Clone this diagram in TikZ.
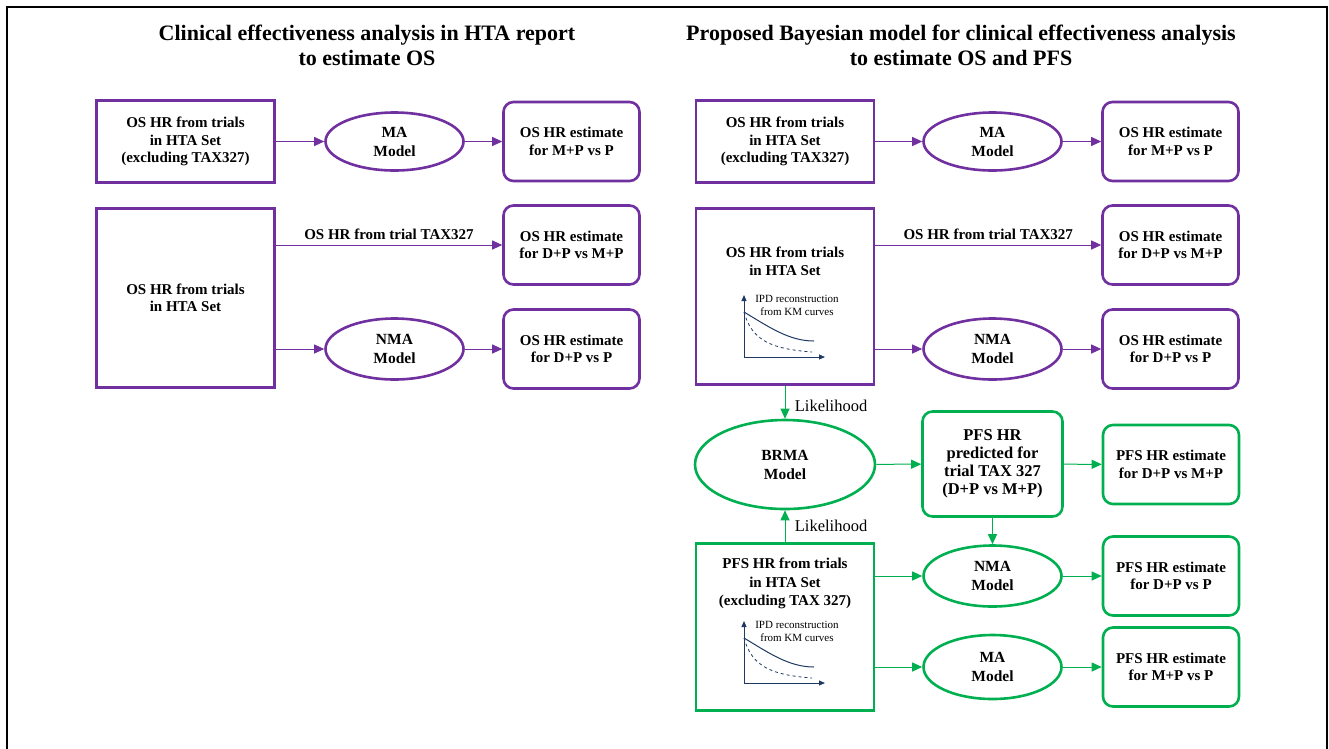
\documentclass[tikz,border=0pt]{standalone}
\usepackage{fontspec}
\setmainfont{Liberation Serif}
\usetikzlibrary{arrows.meta,positioning,shapes.geometric}
\definecolor{ospurple}{RGB}{112,48,160}
\definecolor{pfsgreen}{RGB}{0,176,80}
\definecolor{kmblue}{RGB}{31,56,100}

\begin{document}
\begin{tikzpicture}[x=1pt, y=-1pt,
    sqbox/.style={draw=#1, line width=2.6pt, minimum width=178pt, align=center, font=\fontsize{15}{17.5}\selectfont\bfseries},
    estbox/.style={draw=#1, line width=2.6pt, rounded corners=10pt, minimum width=136pt, minimum height=79pt, align=center, font=\fontsize{15}{17.5}\selectfont\bfseries},
    model/.style={draw=#1, ellipse, line width=2.6pt, minimum width=138pt, minimum height=58pt, inner sep=1pt, align=center, font=\fontsize{15.5}{19}\selectfont\bfseries},
    lbl/.style={align=center, font=\fontsize{15}{17.5}\selectfont\bfseries},
    title/.style={align=center, font=\fontsize{22}{25}\selectfont\bfseries},
    arr/.style={-{Triangle[length=10pt,width=9pt]}, line width=1pt}
]
\useasboundingbox (0,0) rectangle (1329,748);
\draw[line width=2.5pt] (7,760) -- (7,7) -- (1327,7) -- (1327,760);

\node[title] (titleL) at (367,45.5) {Clinical effectiveness analysis in HTA report\\to estimate OS};
\node[title] (titleR) at (961,45.5) {Proposed Bayesian model for clinical effectiveness analysis\\to estimate OS and PFS};

% current HTA analysis
\node[sqbox=ospurple, minimum height=82pt] (osL1) at (185.5,141.5) {OS HR from trials\\in HTA Set\\(excluding TAX327)};
\node[model=ospurple] (maL) at (394.5,141.5) {MA\\Model};
\node[estbox=ospurple] (estMPL) at (571.5,141.5) {OS HR estimate\\for M+P vs P};
\node[sqbox=ospurple, minimum height=179pt] (osL2) at (185.5,298) {OS HR from trials\\in HTA Set};
\node[estbox=ospurple] (estDML) at (571.5,245) {OS HR estimate\\for D+P vs M+P};
\node[model=ospurple, minimum height=61pt] (nmaL) at (394.5,349) {NMA\\Model};
\node[estbox=ospurple] (estDPL) at (571.5,349) {OS HR estimate\\for D+P vs P};

\draw[arr, ospurple] (osL1) -- (maL);
\draw[arr, ospurple] (maL) -- (estMPL);
\draw[arr, ospurple] (osL2.east |- estDML) -- node[above=2pt, text=black, lbl] (tax327L) {OS HR from trial TAX327} (estDML);
\draw[arr, ospurple] (osL2.east |- nmaL) -- (nmaL);
\draw[arr, ospurple] (nmaL) -- (estDPL);

% proposed Bayesian model
\node[sqbox=ospurple, minimum height=82pt] (osR1) at (785,141.5) {OS HR from trials\\in HTA Set\\(excluding TAX327)};
\node[model=ospurple] (maR) at (992.5,141.5) {MA\\Model};
\node[estbox=ospurple] (estMPR) at (1170.5,141.5) {OS HR estimate\\for M+P vs P};
\node[sqbox=ospurple, minimum height=176pt] (osR2) at (785,296.5) {};
\node[lbl] (osR2txt) at (785,261.5) {OS HR from trials\\in HTA Set};
\node[estbox=ospurple] (estDMR) at (1170.5,245) {OS HR estimate\\for D+P vs M+P};
\node[model=ospurple, minimum height=61pt] (nmaR) at (992.5,349) {NMA\\Model};
\node[estbox=ospurple] (estDPR) at (1170.5,349) {OS HR estimate\\for D+P vs P};

\draw[arr, ospurple] (osR1) -- (maR);
\draw[arr, ospurple] (maR) -- (estMPR);
\draw[arr, ospurple] (osR2.east |- estDMR) -- node[above=2pt, text=black, lbl] (tax327R) {OS HR from trial TAX327} (estDMR);
\draw[arr, ospurple] (osR2.east |- nmaR) -- (nmaR);
\draw[arr, ospurple] (nmaR) -- (estDPR);

\node[model=pfsgreen, minimum width=180pt, minimum height=89pt] (brma) at (785,464.5) {BRMA\\Model};
\node[estbox=pfsgreen, minimum width=140pt, minimum height=105pt, font=\fontsize{16.5}{18}\selectfont\bfseries] (pred) at (992.5,464) {PFS HR\\predicted for\\trial TAX 327\\(D+P vs M+P)};
\node[estbox=pfsgreen] (pfsDM) at (1171,464.5) {PFS HR estimate\\for D+P vs M+P};
\node[sqbox=pfsgreen, minimum height=167pt] (pfs) at (785,627) {};
\node[lbl, font=\fontsize{15}{18.5}\selectfont\bfseries] (pfstxt) at (785,583.5) {PFS HR from trials\\in HTA Set\\(excluding TAX 327)};
\node[model=pfsgreen, minimum height=61pt] (nmaG) at (992.5,576) {NMA\\Model};
\node[estbox=pfsgreen] (pfsDP) at (1171,576) {PFS HR estimate\\for D+P vs P};
\node[model=pfsgreen, minimum height=64pt] (maG) at (992.5,667) {MA\\Model};
\node[estbox=pfsgreen] (pfsMP) at (1171,667) {PFS HR estimate\\for M+P vs P};

\draw[arr, pfsgreen] (osR2) -- node[pos=0.6, right=6pt, text=black, font=\fontsize{16.5}{18}\selectfont] (likeA) {Likelihood} (brma);
\draw[arr, pfsgreen] (pfs) -- node[pos=0.5, right=6pt, text=black, font=\fontsize{16.5}{18}\selectfont] (likeB) {Likelihood} (brma);
\draw[arr, pfsgreen] (brma) -- (pred);
\draw[arr, pfsgreen] (pred) -- (pfsDM);
\draw[arr, pfsgreen] (pred) -- (nmaG);
\draw[arr, pfsgreen] (pfs.east |- nmaG) -- (nmaG);
\draw[arr, pfsgreen] (nmaG) -- (pfsDP);
\draw[arr, pfsgreen] (pfs.east |- maG) -- (maG);
\draw[arr, pfsgreen] (maG) -- (pfsMP);

% KM sketches
\foreach \ky in {357,683} {
  \begin{scope}[shift={(744,\ky)}, kmblue]
    \draw[line width=1pt, {Triangle[length=6pt,width=5pt]}-{Triangle[length=6pt,width=5pt]}] (0,-62) -- (0,0) -- (81,0);
    \draw[line width=1pt] (0,-45) .. controls (25,-30) and (45,-16) .. (70,-16);
    \draw[line width=0.8pt, dashed] (0,-45) .. controls (8,-15) and (30,-8) .. (68,-5);
    \node[text=black, align=center, font=\fontsize{11}{13}\selectfont] (ipd\ky) at (53,-51.5) {IPD reconstruction\\from KM curves};
  \end{scope}
}
\end{tikzpicture}
\end{document}
